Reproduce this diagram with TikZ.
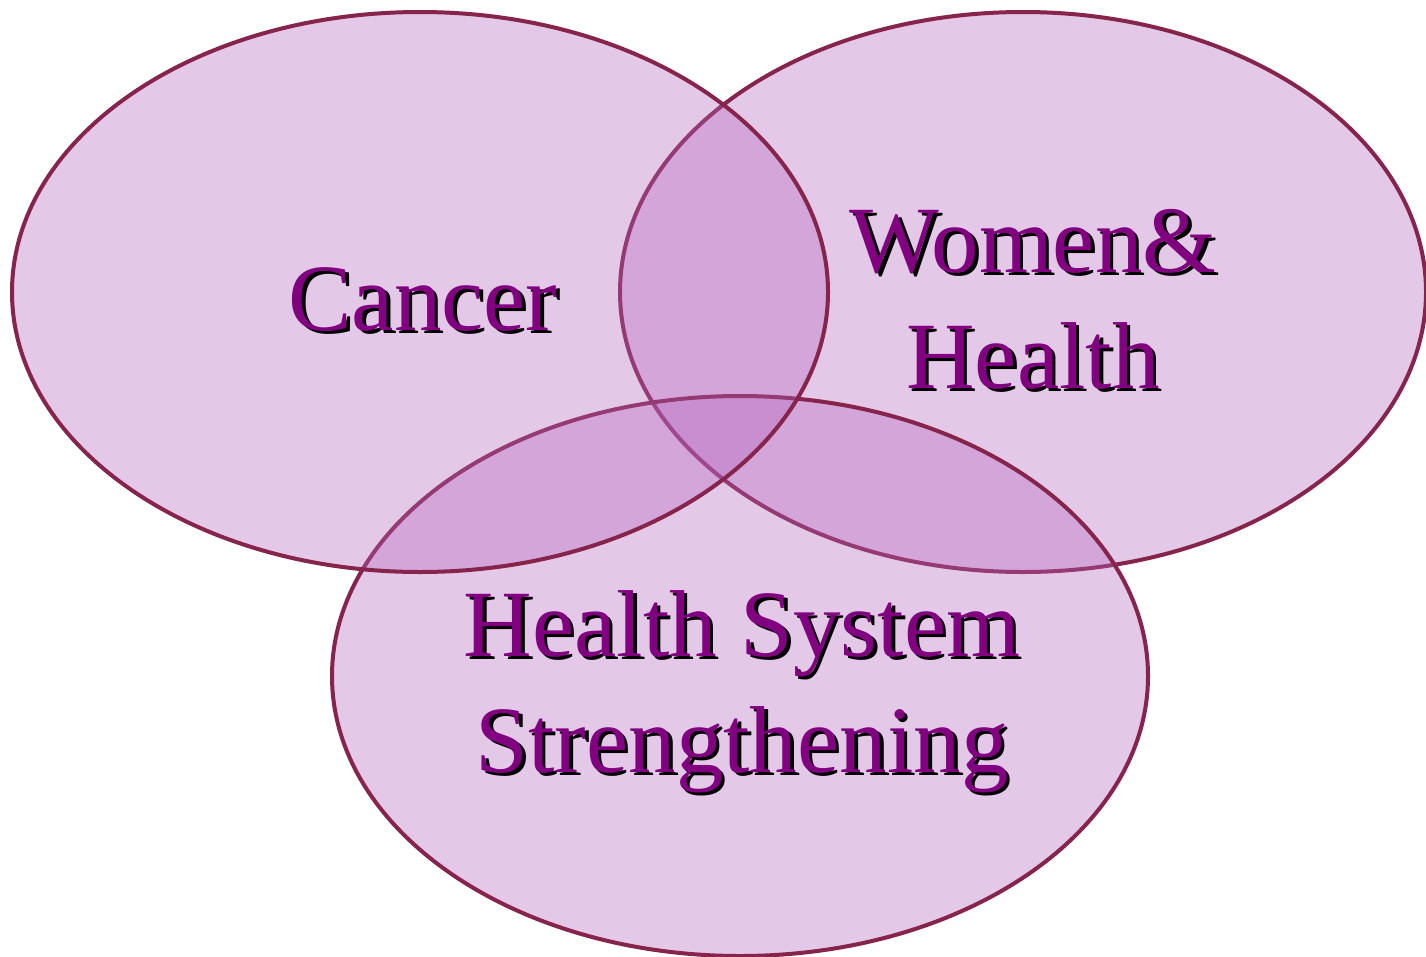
\documentclass[tikz,border=0pt]{standalone}
\usepackage{fontspec}
\setmainfont{Liberation Serif}
\definecolor{ringline}{RGB}{134,36,76}
\definecolor{ringfill}{RGB}{180,100,190}
\definecolor{txtpurple}{RGB}{128,0,128}
\newcommand{\shtxt}[1]{\makebox[0pt][l]{\hspace{3.5pt}\raisebox{-3.5pt}{\color{black}#1}}#1}
\tikzset{
  ring/.style={draw=ringline, line width=4pt, fill=ringfill, fill opacity=0.35},
  lbl/.style={font=\fontsize{95}{116}\selectfont, align=center, anchor=base, inner sep=0pt, text=txtpurple}
}
\begin{document}
\begin{tikzpicture}[x=1pt,y=-1pt]
\useasboundingbox (0,0) rectangle (1426,956);
\fill[white] (0,0) rectangle (1426,956);
% circles: right, bottom, left
\path[ring] (1023,292) ellipse [x radius=403pt, y radius=280pt];
\path[ring] (740,676) ellipse [x radius=408pt, y radius=280pt];
\path[ring] (420,292) ellipse [x radius=408pt, y radius=280pt];
% labels with shadow
\node[lbl] (cancer) at (423,330) {\shtxt{Cancer}};
\node[lbl] (women) at (1033,388) {\shtxt{Women\&}\\\shtxt{Health}};
\node[lbl] (hss) at (742,772) {\shtxt{Health System}\\\shtxt{Strengthening}};
\end{tikzpicture}
\end{document}
